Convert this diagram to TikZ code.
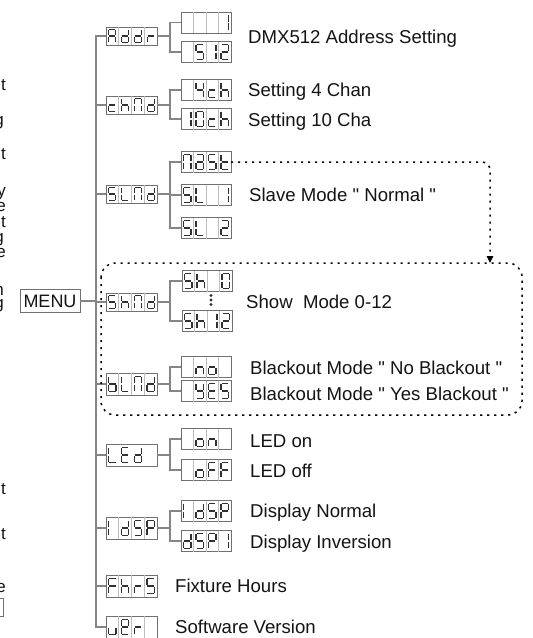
\documentclass[tikz,border=0pt]{standalone}
\usepackage{fontspec}
\setmainfont{Liberation Sans}
\usetikzlibrary{calc,arrows.meta}
\font\qfnt="Liberation Sans" at 18.5pt
\newcommand\qt{{\qfnt"}}
\definecolor{boxc}{HTML}{707070}
\definecolor{divc}{HTML}{BEBEBE}
\definecolor{segc}{HTML}{303030}
\definecolor{linec}{HTML}{858585}
\definecolor{txtc}{HTML}{141414}
\def\dimsone{\def\dw{3.5}\def\dh{6.2}}
\def\dimsbig{\def\dw{3.7}\def\dh{7.4}}
\def\dimstwo{\def\dw{3.7}\def\dh{7.6}}
% seven-segment patterns
\def\sgA{a,b,c,e,f,g}
\def\sgB{c,d,e,f,g}
\def\sgC{d,e,g}
\def\sgD{b,c,d,e,g}
\def\sgE{a,d,e,f,g}
\def\sgF{a,e,f,g}
\def\sgH{c,e,f,g}
\def\sgL{d,e,f}
\def\sgN{a,b,c,e,f}
\def\sgn{c,e,g}
\def\sgo{c,d,e,g}
\def\sgP{a,b,e,f,g}
\def\sgR{e,g}
\def\sgS{a,c,d,f,g}
\def\sgT{d,e,f,g}
\def\sgU{c,d,e}
\def\sgY{b,c,d,f,g}
\def\sgI{b,c}
\def\sgIl{e,f}
\def\sgTwo{a,b,d,e,g}
\def\sgFour{b,c,f,g}
\def\sgZero{a,b,c,d,e,f}
\def\sga{a,b,c,d,e,g}
\def\sge{a,b,d,e,f,g}
\tikzset{
 lcdone/.style={draw=boxc, line width=0.9pt, minimum width=51pt, minimum height=18pt, inner sep=0pt, outer sep=0pt},
 lcdbig/.style={lcdone, minimum height=22pt},
 lcdtwo/.style={lcdone, minimum width=50pt, minimum height=21pt},
 div/.style={draw=divc, line width=0.7pt},
 seg/.style={draw=segc, line width=1.2pt, shorten <=0.55pt, shorten >=0.55pt},
 conn/.style={draw=linec, line width=1.1pt},
 lbl/.style={anchor=base west, inner sep=0pt, text=txtc, font=\fontsize{18.6}{22}\selectfont},
 dotl/.style={draw=black, line width=1.5pt, dash pattern=on 2.2pt off 4.8pt},
 frag/.style={anchor=base east, inner sep=0pt, text=txtc, font=\fontsize{17}{20}\selectfont},
}
\newcommand\lcd[6]{%
  \node[lcd#4] (#1) at (#2,#3) {};
  \csname dims#4\endcsname
  \ifnum#5=1
   \foreach \k in {1,2,3}
     \draw[div] ($(#1.north west)!{\k/4}!(#1.north east)$) -- ($(#1.south west)!{\k/4}!(#1.south east)$);
  \fi
  \foreach \k/\sg in {#6}{%
    \edef\seglist{\sg}%
    \begin{scope}[shift={($(#1.west)!{(\k-0.5)/4}!(#1.east)$)}]
      \coordinate (sa1) at (-\dw,-\dh); \coordinate (sa2) at (\dw,-\dh);
      \coordinate (sb1) at (\dw,-\dh);  \coordinate (sb2) at (\dw,0);
      \coordinate (sc1) at (\dw,0);     \coordinate (sc2) at (\dw,\dh);
      \coordinate (sd1) at (-\dw,\dh);  \coordinate (sd2) at (\dw,\dh);
      \coordinate (se1) at (-\dw,0);    \coordinate (se2) at (-\dw,\dh);
      \coordinate (sf1) at (-\dw,-\dh); \coordinate (sf2) at (-\dw,0);
      \coordinate (sg1) at (-\dw,0);    \coordinate (sg2) at (\dw,0);
      \foreach \s in \seglist {\draw[seg] (s\s1) -- (s\s2);}
    \end{scope}
  }%
}
\begin{document}
\begin{tikzpicture}[x=1pt,y=-1pt]
\useasboundingbox (0,0) rectangle (533,638);
\fill[white] (0,0) rectangle (533,638);

% level 1
\lcd{addr}{131.5}{36}{one}{1}{1/\sgA,2/\sgD,3/\sgD,4/\sgR}
\lcd{chnd}{131.5}{105}{one}{1}{1/\sgC,2/\sgH,3/\sgN,4/\sgD}
\lcd{slnd}{131.5}{194}{one}{1}{1/\sgS,2/\sgL,3/\sgN,4/\sgD}
\lcd{shnd}{131.5}{302}{one}{1}{1/\sgS,2/\sgH,3/\sgN,4/\sgD}
\lcd{blnd}{131.5}{384}{big}{1}{1/\sgB,2/\sgL,3/\sgN,4/\sgD}
\lcd{led}{131.5}{455}{big}{0}{1/\sgL,2/\sgE,3/\sgD}
\lcd{idsp}{131.5}{528}{big}{1}{1/\sgIl,2/\sgD,3/\sgS,4/\sgP}
\lcd{fhrs}{131.5}{586}{big}{1}{1/\sgF,2/\sgH,3/\sgR,4/\sgS}
\lcd{ver}{131.5}{627}{big}{1}{1/\sgU,2/\sge,3/\sgR}

% level 2
\lcd{addr1}{206}{22.5}{two}{1}{4/\sgI}
\lcd{addr2}{206}{52}{two}{1}{2/\sgS,3/\sgI,4/\sgTwo}
\lcd{ch1}{206}{90}{two}{1}{2/\sgFour,3/\sgC,4/\sgH}
\lcd{ch2}{206}{119}{two}{1}{1/\sgI,2/\sgZero,3/\sgC,4/\sgH}
\lcd{mast}{206}{162}{two}{1}{1/\sgN,2/\sga,3/\sgS,4/\sgT}
\lcd{sl1}{206}{195}{two}{1}{1/\sgS,2/\sgL,4/\sgI}
\lcd{sl2}{206}{228}{two}{1}{1/\sgS,2/\sgL,4/\sgTwo}
\lcd{sh0}{207}{281}{two}{1}{1/\sgS,2/\sgH,4/\sgZero}
\lcd{sh12}{207}{321}{two}{1}{1/\sgS,2/\sgH,3/\sgI,4/\sgTwo}
\lcd{no}{206}{367}{two}{1}{2/\sgn,3/\sgo}
\lcd{yes}{206}{391}{two}{1}{2/\sgY,3/\sgE,4/\sgS}
\lcd{on}{206}{439}{two}{1}{2/\sgo,3/\sgn}
\lcd{off}{206}{470}{two}{1}{2/\sgo,3/\sgF,4/\sgF}
\lcd{dsp1}{206}{511}{two}{1}{1/\sgIl,2/\sgD,3/\sgS,4/\sgP}
\lcd{dsp2}{206}{541}{two}{1}{1/\sgD,2/\sgS,3/\sgP,4/\sgI}

% vertical ellipsis
\foreach \dy in {-4.5,0,4.5} \fill[segc] (211,300+\dy) circle (1.7pt);

% MENU
\node[draw=boxc, line width=0.9pt, minimum width=60pt, minimum height=23pt, inner sep=0pt, outer sep=0pt, text=txtc, font=\fontsize{18}{22}\selectfont] (menu) at (50,301) {MENU};

% trunk
\coordinate (trunk) at (96,0);
\coordinate (br) at (170,0);
\draw[conn] (addr.west) -- (addr.west -| trunk) -- (ver.west -| trunk) -- (ver.west);
\foreach \n in {chnd,slnd,shnd,blnd,led,idsp,fhrs}
  \draw[conn] (\n.west) -- (\n.west -| trunk);
\draw[conn] (menu.east) -- (menu.east -| trunk);

% branches
\foreach \p/\a/\b in {addr/addr1/addr2, chnd/ch1/ch2, slnd/mast/sl2, shnd/sh0/sh12, blnd/no/yes, led/on/off, idsp/dsp1/dsp2}{
  \draw[conn] (\p.east) -- (\p.east -| br);
  \draw[conn] (\a.west) -- (\a.west -| br) -- (\b.west -| br) -- (\b.west);
}
\draw[conn] (sl1.west) -- (sl1.west -| br);

% dotted arrow and dotted frame
\coordinate (dtip) at (490,263);
\draw[dotl, rounded corners=8pt, -{Triangle[length=7pt,width=6.5pt]}] (mast.east) -- (mast.east -| dtip) -- (dtip);
\draw[dotl, rounded corners=14pt] (101,263) rectangle (522,415);

% labels
\node[lbl] (t1) at (248,43.6) {DMX512 Address Setting};
\node[lbl] (t2) at (248,96.6) {Setting 4 Chan};
\node[lbl] (t3) at (248,126.6) {Setting 10 Cha};
\node[lbl] (t4) at (249,201.6) {Slave Mode \qt\ Normal \qt};
\node[lbl] (t5) at (246,308.6) {Show\ \ Mode 0-12};
\node[lbl] (t6) at (250,374.6) {Blackout Mode \qt\ No Blackout \qt};
\node[lbl] (t7) at (250,400.6) {Blackout Mode \qt\ Yes Blackout \qt};
\node[lbl] (t8) at (250,447.6) {LED on};
\node[lbl] (t9) at (250,477.6) {LED off};
\node[lbl] (t10) at (250,517.6) {Display Normal};
\node[lbl] (t11) at (250,548.6) {Display Inversion};
\node[lbl] (t12) at (175,592.6) {Fixture Hours};
\node[lbl] (t13) at (175,633.6) {Software Version};

% cut-off fragments at the left edge
\node[frag] (f1) at (6,90) {t};
\node[frag] (f2) at (4,125) {g};
\node[frag] (f3) at (6,159) {t};
\node[frag] (f4) at (6,196) {y};
\node[frag] (f5) at (6,211) {e};
\node[frag] (f6) at (6,227) {t};
\node[frag] (f7) at (4,242) {g};
\node[frag] (f8) at (6,257) {e};
\node[frag] (f9) at (4,295) {n};
\node[frag] (f10) at (4,308) {g};
\node[frag] (f11) at (6,494) {t};
\node[frag] (f12) at (6,539) {t};
\node[frag] (f13) at (6,592) {e};
\draw[boxc, line width=0.9pt] (-10,598) rectangle (3.5,616);
\end{tikzpicture}
\end{document}
